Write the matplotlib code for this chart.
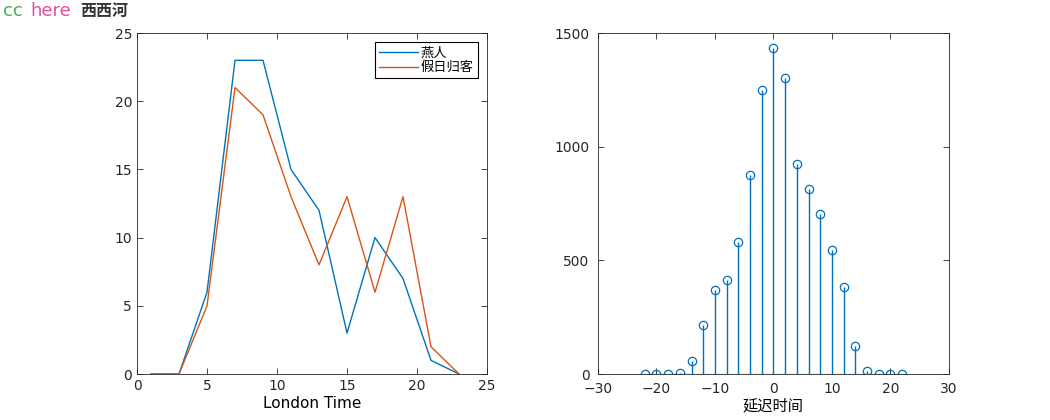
import matplotlib
matplotlib.use("Agg")
import matplotlib.pyplot as plt
import numpy as np

plt.rcParams['font.family'] = ['DejaVu Sans', 'Noto Sans CJK SC']

# Data
hours = [1, 3, 5, 7, 9, 11, 13, 15, 17, 19, 21, 23]
swallow = [0, 0, 6, 23, 23, 15, 12, 3, 10, 7, 1, 0]       # 燕人
holiday = [0, 0, 5, 21, 19, 13, 8, 13, 6, 13, 2, 0]       # 假日归客
lags = list(range(-22, 23, 2))
xcorr_vals = [0, 0, 0, 5, 56, 215, 371, 412, 582, 875, 1248, 1433,
              1300, 924, 814, 704, 545, 381, 124, 12, 0, 0, 0]

blue = (0, 0.447, 0.741)
orange = (0.85, 0.325, 0.098)
cjk = ['Noto Sans CJK SC', 'DejaVu Sans']

fig = plt.figure(figsize=(10.5, 4.2), dpi=100)

ax1 = fig.add_axes([0.1305, 0.1095, 0.3333, 0.8119])
ax1.plot(hours, swallow, color=blue, lw=1, label='燕人')
ax1.plot(hours, holiday, color=orange, lw=1, label='假日归客')
ax1.set_xlim(0, 25)
ax1.set_ylim(0, 25)
ax1.set_xticks([0, 5, 10, 15, 20, 25])
ax1.set_yticks([0, 5, 10, 15, 20, 25])
ax1.set_xlabel('London Time', fontsize=11, labelpad=2)
leg = ax1.legend(loc='upper right', prop={'family': cjk, 'size': 9.5}, fancybox=False,
                 edgecolor='black', framealpha=1, handlelength=3.0, borderpad=0.3,
                 labelspacing=0.15, handletextpad=0.2, borderaxespad=0.7)
leg.get_frame().set_linewidth(0.8)

ax2 = fig.add_axes([0.5695, 0.1095, 0.3343, 0.8119])
ml, sl, bl = ax2.stem(lags, xcorr_vals, basefmt='k-')
plt.setp(sl, color=blue, lw=1)
plt.setp(ml, markerfacecolor='none', markeredgecolor=blue, markersize=6, markeredgewidth=0.9)
plt.setp(bl, lw=0.8)
ax2.set_xlim(-30, 30)
ax2.set_ylim(0, 1500)
ax2.set_xticks([-30, -20, -10, 0, 10, 20, 30])
ax2.set_yticks([0, 500, 1000, 1500])
ax2.set_xlabel('延迟时间', fontsize=11, family=cjk, labelpad=1)

for ax in (ax1, ax2):
    ax.tick_params(direction='in', top=True, right=True, labelsize=10, length=4, width=0.6,
                   colors='#262626', labelcolor='#262626')
    for s in ax.spines.values():
        s.set_linewidth(0.6)
        s.set_color('#262626')
ax2.tick_params(axis='y', pad=6)
ax2.tick_params(axis='x', pad=6)

fig.text(0.003, 0.975, 'cc', color='#4caf50', fontsize=13, va='center', ha='left')
fig.text(0.029, 0.975, 'here', color='#e0529c', fontsize=13, va='center', ha='left')
fig.text(0.076, 0.975, '西西河', color='#333333', fontsize=11.5, va='center', ha='left',
         family=cjk, fontweight='bold')

fig.savefig('out.png', dpi=100)
